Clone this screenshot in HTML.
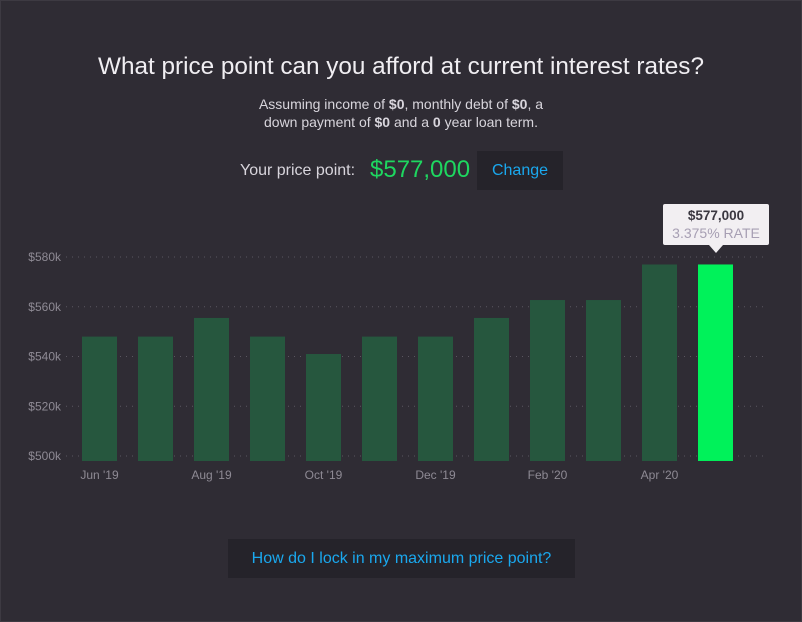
<!DOCTYPE html>
<html><head><meta charset="utf-8"><style>
body{margin:0;width:802px;height:622px;background:#2f2c34;font-family:"Liberation Sans",sans-serif;overflow:hidden;position:relative}
.frame{position:absolute;left:0;top:0;width:800px;height:620px;border:1px solid #3d3a42}
.t{position:absolute;left:0;width:802px;text-align:center}
.btn{position:absolute;background:#25232a;color:#1aa8ee;text-align:center}
</style></head><body>
<div class="frame"></div>
<div class="t" style="top:53px;font-size:24.3px;color:#f0eef2;font-weight:300">What price point can you afford at current interest rates?</div>
<div class="t" style="top:95px;font-size:14px;line-height:18px;color:#d8d5dc">Assuming income of <b>$0</b>, monthly debt of <b>$0</b>, a<br>down payment of <b>$0</b> and a <b>0</b> year loan term.</div>
<div style="position:absolute;left:240px;top:162px;font-size:16px;color:#d8d5dc">Your price point:</div>
<div style="position:absolute;left:370px;top:156px;font-size:24px;color:#1ed760">$577,000</div>
<div class="btn" style="left:477px;top:151px;width:86px;height:39px;line-height:39px;font-size:16px">Change</div>
<svg id="chart" width="802" height="622" style="position:absolute;left:0;top:0"></svg>
<div style="position:absolute;left:663px;top:204px;width:106px;height:41px;background:#f2eff2;border-radius:2px;text-align:center;font-size:13.5px">
<div style="color:#3a3740;font-weight:bold;margin-top:4px">$577,000</div>
<div style="color:#a79fb3;margin-top:2px;font-size:14px">3.375% RATE</div>
<div style="position:absolute;left:46px;top:41px;width:0;height:0;border-left:7px solid transparent;border-right:7px solid transparent;border-top:8px solid #f2eff2"></div>
</div>
<div class="btn" style="left:228px;top:539px;width:347px;height:39px;line-height:39px;font-size:16px">How do I lock in my maximum price point?</div>
<script>
const categories=["Jun '19","Jul '19","Aug '19","Sep '19","Oct '19","Nov '19","Dec '19","Jan '20","Feb '20","Mar '20","Apr '20","May '20"];
const values=[548,548,555.5,548,541,548,548,555.5,562.7,562.7,577,577];
const yTicks=[500,520,540,560,580];
const tickLabels=["$500k","$520k","$540k","$560k","$580k"];
const highlightIndex=11;
const svg=document.getElementById('chart');
const NS='http://www.w3.org/2000/svg';
function y(v){return 456-(v-500)*2.4875;}
function x(i){return 82+i*56;}
const base=y(498);
yTicks.forEach((t,i)=>{
 const l=document.createElementNS(NS,'line');
 
 
 l.setAttribute('x1',66);l.setAttribute('x2',767);l.setAttribute('y1',y(t));l.setAttribute('y2',y(t));
 l.setAttribute('stroke','#5a5660');l.setAttribute('stroke-dasharray','1 5');svg.appendChild(l);
 const tx=document.createElementNS(NS,'text');
 
 
 tx.setAttribute('x',61);tx.setAttribute('y',y(t)+4);tx.setAttribute('text-anchor','end');
 tx.setAttribute('font-size','12');tx.setAttribute('fill','#8e8a94');tx.textContent=tickLabels[i];svg.appendChild(tx);
});
values.forEach((v,i)=>{
 const r=document.createElementNS(NS,'rect');
 
 
 r.setAttribute('x',x(i));r.setAttribute('width',35);r.setAttribute('y',y(v));r.setAttribute('height',base-y(v));
 r.setAttribute('fill',i===highlightIndex?'#00f25a':'#26573e');svg.appendChild(r);
 if(i%2===0){
 const tx=document.createElementNS(NS,'text');
 
 
 tx.setAttribute('x',x(i)+17.5);tx.setAttribute('y',479);tx.setAttribute('text-anchor','middle');
 tx.setAttribute('font-size','12');tx.setAttribute('fill','#8e8a94');tx.textContent=categories[i];svg.appendChild(tx);}
});
</script>
</body></html>
